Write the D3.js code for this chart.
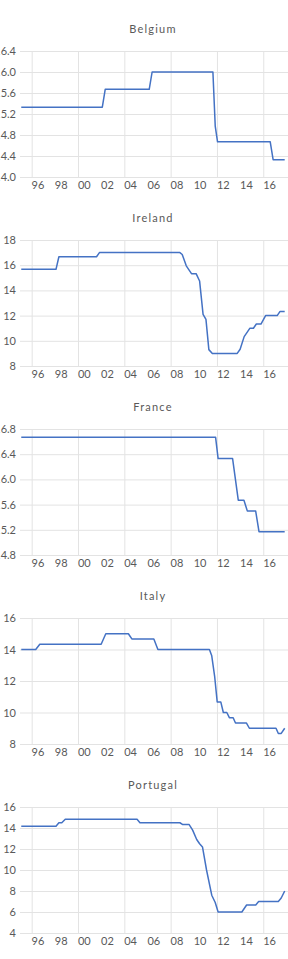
<!DOCTYPE html>
<html>
<head>
<meta charset="utf-8">
<script src="https://cdn.jsdelivr.net/npm/d3@7"></script>
<style>
  body { margin: 0; background: #fff; }
  text { font-family: Lato, "Open Sans", sans-serif; fill: #595959; }
</style>
</head>
<body>
<div id="chart"></div>
<script>
// values: [decimal year, value]
const countries = ['Belgium', 'Ireland', 'France', 'Italy', 'Portugal'];

const belgium = [[1995.1, 15.33], [2002.1, 15.33], [2002.35, 15.67], [2006.15, 15.67], [2006.4, 16.0],
    [2011.65, 16.0], [2011.85, 14.97], [2012.05, 14.67], [2016.6, 14.67], [2016.85, 14.33], [2017.85, 14.33]];

const ireland = [[1995.1, 15.67], [1998.1, 15.67], [1998.35, 16.67], [2001.6, 16.67], [2001.85, 17.0],
    [2008.8, 17.0], [2009.0, 16.85], [2009.35, 15.95], [2009.8, 15.33], [2010.2, 15.33], [2010.5, 14.75],
    [2010.8, 12.1], [2011.05, 11.7], [2011.3, 9.3], [2011.6, 9.0], [2013.75, 9.0], [2014.0, 9.33],
    [2014.35, 10.33], [2014.85, 11.0], [2015.15, 11.0], [2015.4, 11.33], [2015.8, 11.33], [2016.2, 12.0],
    [2017.2, 12.0], [2017.45, 12.33], [2017.85, 12.33]];

const france = [[1995.1, 16.67], [2011.88, 16.67], [2012.1, 16.33], [2013.35, 16.33], [2013.84, 15.67],
    [2014.33, 15.67], [2014.62, 15.5], [2015.34, 15.5], [2015.63, 15.17], [2017.85, 15.17]];

const italy = [[1995.1, 14.0], [1996.35, 14.0], [1996.7, 14.33], [2002.0, 14.33], [2002.4, 15.0],
    [2004.35, 15.0], [2004.65, 14.67], [2006.55, 14.67], [2006.9, 14.0], [2011.35, 14.0], [2011.55, 13.6],
    [2011.8, 12.3], [2012.02, 10.67], [2012.33, 10.67], [2012.55, 10.0], [2012.85, 10.0], [2013.07, 9.67],
    [2013.4, 9.67], [2013.6, 9.33], [2014.55, 9.33], [2014.8, 9.0], [2017.1, 9.0], [2017.3, 8.67],
    [2017.55, 8.67], [2017.85, 9.0]];

const portugal = [[1995.1, 14.17], [1998.1, 14.17], [1998.35, 14.5], [1998.6, 14.5], [1998.9, 14.83],
    [2005.1, 14.83], [2005.35, 14.5], [2008.8, 14.5], [2009.05, 14.33], [2009.6, 14.33], [2009.9, 13.8],
    [2010.25, 12.9], [2010.5, 12.5], [2010.75, 12.2], [2011.1, 10.0], [2011.55, 7.6], [2011.85, 6.9],
    [2012.1, 6.0], [2014.15, 6.0], [2014.56, 6.67], [2015.35, 6.67], [2015.6, 7.0], [2017.3, 7.0],
    [2017.55, 7.33], [2017.85, 8.0]];

const seriesData = [belgium, ireland, france, italy, portugal];

const belgiumTicks = [14.0, 14.4, 14.8, 15.2, 15.6, 16.0, 16.4];
const irelandTicks = [8, 10, 12, 14, 16, 18];
const franceTicks = [14.8, 15.2, 15.6, 16.0, 16.4, 16.8];
const italyTicks = [8, 10, 12, 14, 16];
const portugalTicks = [4, 6, 8, 10, 12, 14, 16];
const yTickSets = [belgiumTicks, irelandTicks, franceTicks, italyTicks, portugalTicks];
const yFormats = ['.1f', 'd', '.1f', 'd', 'd'];

const yearLabels = [1996, 1998, 2000, 2002, 2004, 2006, 2008, 2010, 2012, 2014, 2016];
const gridYears = [1996, 2000, 2004, 2008, 2012, 2016];

const width = 288, height = 959;
const left = 20, plotH = 126, firstTop = 51, step = 189;

const svg = d3.select('#chart').append('svg')
    .attr('width', width)
    .attr('height', height);

const x = d3.scaleLinear()
    .domain([1995, 2018])
    .range([left + 0.1, left + 0.1 + 23 * 11.58]);

const line = d3.line()
    .x(d => x(d[0]))
    .y(d => d.y);

countries.forEach((name, i) => {
    const top = firstTop + step * i;
    const ticks = yTickSets[i];
    const y = d3.scaleLinear()
        .domain(d3.extent(ticks))
        .range([top + plotH, top]);

    const g = svg.append('g');

    // horizontal gridlines + labels (the left edge clips them, as in the original)
    const yAxis = g.append('g')
        .attr('transform', `translate(${left},0)`)
        .call(d3.axisLeft(y).tickValues(ticks).tickFormat(d3.format(yFormats[i]))
            .tickSize(-(width - left)).tickPadding(4));
    yAxis.select('.domain').remove();
    yAxis.selectAll('line').attr('stroke', '#e3e3e3');
    yAxis.selectAll('text').attr('font-size', '11px').attr('fill', '#595959');

    // vertical gridlines
    const xGrid = g.append('g')
        .attr('transform', `translate(0,${top + plotH})`)
        .call(d3.axisBottom(x).tickValues(gridYears).tickSize(-plotH).tickFormat(''));
    xGrid.select('.domain').remove();
    xGrid.selectAll('line').attr('stroke', '#e3e3e3');

    // year labels, centred in each year
    const xAxis = g.append('g')
        .attr('transform', `translate(0,${top + plotH})`)
        .call(d3.axisBottom(x.copy().domain([1994.5, 2017.5]))
            .tickValues(yearLabels).tickSize(0).tickPadding(4)
            .tickFormat(d => String(d % 100).padStart(2, '0')));
    xAxis.select('.domain').remove();
    xAxis.selectAll('text').attr('font-size', '11px').attr('fill', '#595959');

    g.append('text')
        .attr('x', 153)
        .attr('y', top - 18)
        .attr('text-anchor', 'middle')
        .attr('font-size', '11px')
        .attr('letter-spacing', '1.2px')
        .attr('fill', '#404040')
        .text(name);

    g.append('path')
        .datum(seriesData[i].map(d => Object.assign([d[0], d[1]], { y: y(d[1]) })))
        .attr('d', line)
        .attr('fill', 'none')
        .attr('stroke', '#4472c4')
        .attr('stroke-width', 1.5)
        .attr('stroke-linejoin', 'round');
});
</script>
</body>
</html>
